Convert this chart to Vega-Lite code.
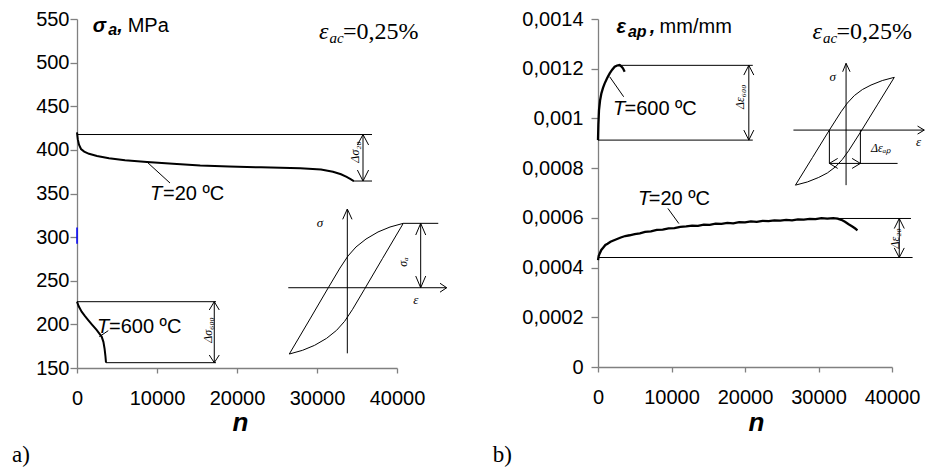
{
"$schema":"https://vega.github.io/schema/vega-lite/v6.json",
"padding":{"left":12,"top":9,"right":0,"bottom":0},
"bounds":"flush",
"spacing":201,
"background":"white",
"config":{"view":{"stroke":null},"axis":{"grid":false,"domainColor":"#808080","tickColor":"#808080","domainWidth":1.3,"tickWidth":1.3,"labelColor":"black","labelFont":"Liberation Sans","labelFontSize":20,"titleFont":"Liberation Sans","titleColor":"black","labelFlush":false,"labelOverlap":false}},
"datasets":{
"Lline":[
{"k":"curve","g":"c20","i":0,"n":0,"s":420},{"k":"curve","g":"c20","i":1,"n":100,"s":412},{"k":"curve","g":"c20","i":2,"n":250,"s":406},{"k":"curve","g":"c20","i":3,"n":500,"s":401},{"k":"curve","g":"c20","i":4,"n":900,"s":398},{"k":"curve","g":"c20","i":5,"n":1500,"s":395.5},{"k":"curve","g":"c20","i":6,"n":2500,"s":393},{"k":"curve","g":"c20","i":7,"n":4000,"s":390.5},{"k":"curve","g":"c20","i":8,"n":6000,"s":388},{"k":"curve","g":"c20","i":9,"n":8750,"s":386},{"k":"curve","g":"c20","i":10,"n":12000,"s":384},{"k":"curve","g":"c20","i":11,"n":15400,"s":382},{"k":"curve","g":"c20","i":12,"n":19000,"s":381},{"k":"curve","g":"c20","i":13,"n":23000,"s":380},{"k":"curve","g":"c20","i":14,"n":27900,"s":379},{"k":"curve","g":"c20","i":15,"n":30500,"s":377.5},{"k":"curve","g":"c20","i":16,"n":32000,"s":375},{"k":"curve","g":"c20","i":17,"n":33000,"s":372},{"k":"curve","g":"c20","i":18,"n":33700,"s":369},{"k":"curve","g":"c20","i":19,"n":34200,"s":366.5},{"k":"curve","g":"c20","i":20,"n":34600,"s":364.3},
{"k":"curve","g":"c600","i":0,"n":0,"s":226},{"k":"curve","g":"c600","i":1,"n":200,"s":221},{"k":"curve","g":"c600","i":2,"n":580,"s":214.6},{"k":"curve","g":"c600","i":3,"n":1000,"s":209.5},{"k":"curve","g":"c600","i":4,"n":1400,"s":205},{"k":"curve","g":"c600","i":5,"n":1900,"s":199.5},{"k":"curve","g":"c600","i":6,"n":2450,"s":193.6},{"k":"curve","g":"c600","i":7,"n":2800,"s":189.5},{"k":"curve","g":"c600","i":8,"n":3080,"s":186},{"k":"curve","g":"c600","i":9,"n":3300,"s":180},{"k":"curve","g":"c600","i":10,"n":3450,"s":172},{"k":"curve","g":"c600","i":11,"n":3550,"s":164},{"k":"curve","g":"c600","i":12,"n":3625,"s":156.1},
{"k":"loop","g":"l1","i":0,"n":26537,"s":166.0},{"k":"loop","g":"l1","i":1,"n":29125,"s":206.2},{"k":"loop","g":"l1","i":2,"n":31412,"s":242.0},{"k":"loop","g":"l1","i":3,"n":32875,"s":264.6},{"k":"loop","g":"l1","i":4,"n":33875,"s":278.4},{"k":"loop","g":"l1","i":5,"n":34875,"s":288.7},{"k":"loop","g":"l1","i":6,"n":36125,"s":297.8},{"k":"loop","g":"l1","i":7,"n":37625,"s":305.9},{"k":"loop","g":"l1","i":8,"n":39125,"s":311.6},{"k":"loop","g":"l1","i":9,"n":40787,"s":315.8},
{"k":"loop","g":"l2","i":0,"n":40787,"s":315.8},{"k":"loop","g":"l2","i":1,"n":38200,"s":275.7},{"k":"loop","g":"l2","i":2,"n":35912,"s":239.9},{"k":"loop","g":"l2","i":3,"n":34450,"s":217.3},{"k":"loop","g":"l2","i":4,"n":33450,"s":203.5},{"k":"loop","g":"l2","i":5,"n":32450,"s":193.2},{"k":"loop","g":"l2","i":6,"n":31200,"s":184.0},{"k":"loop","g":"l2","i":7,"n":29700,"s":176.0},{"k":"loop","g":"l2","i":8,"n":28200,"s":170.3},{"k":"loop","g":"l2","i":9,"n":26537,"s":166.0}
],
"Lseg":[
{"k":"ref","n":0,"s":417.6,"n2":36875,"s2":417.6},
{"k":"ref","n":34500,"s":364.3,"n2":36875,"s2":364.3},
{"k":"ref","n":35750,"s":417.6,"n2":35750,"s2":364.3},
{"k":"ref","n":35050,"s":405.6,"n2":35750,"s2":417.6},
{"k":"ref","n":36450,"s":405.6,"n2":35750,"s2":417.6},
{"k":"ref","n":35050,"s":376.9,"n2":35750,"s2":364.3},
{"k":"ref","n":36450,"s":376.9,"n2":35750,"s2":364.3},
{"k":"ref","n":0,"s":226,"n2":17375,"s2":226},
{"k":"ref","n":3625,"s":156.1,"n2":17375,"s2":156.1},
{"k":"ref","n":17160,"s":226,"n2":17160,"s2":156.1},
{"k":"ref","n":16535,"s":216.5,"n2":17160,"s2":226},
{"k":"ref","n":17785,"s":216.5,"n2":17160,"s2":226},
{"k":"ref","n":16535,"s":164.9,"n2":17160,"s2":156.1},
{"k":"ref","n":17785,"s":164.9,"n2":17160,"s2":156.1},
{"k":"ref","n":8750,"s":386.1,"n2":11625,"s2":362},
{"k":"ref","n":2790,"s":185.9,"n2":3910,"s2":192.8},
{"k":"ref","n":33790,"s":332.2,"n2":33790,"s2":166.8},
{"k":"ref","n":33210,"s":320.4,"n2":33790,"s2":332.2},
{"k":"ref","n":34375,"s":320.4,"n2":33790,"s2":332.2},
{"k":"ref","n":26410,"s":242,"n2":46210,"s2":242},
{"k":"ref","n":45375,"s":247.1,"n2":46210,"s2":242},
{"k":"ref","n":45375,"s":236.9,"n2":46210,"s2":242},
{"k":"ref","n":40787,"s":315.8,"n2":45160,"s2":315.8},
{"k":"ref","n":42960,"s":315.8,"n2":42960,"s2":242},
{"k":"ref","n":42340,"s":302.4,"n2":42960,"s2":315.8},
{"k":"ref","n":43590,"s":302.4,"n2":42960,"s2":315.8},
{"k":"ref","n":42340,"s":255.4,"n2":42960,"s2":242},
{"k":"ref","n":43590,"s":255.4,"n2":42960,"s2":242},
{"k":"blue","n":0,"s":292.5,"n2":0,"s2":311}
],
"Ltext":[
{"t":"σ","n":1962,"s":535.4,"k":"ttl"},
{"t":"a","n":3912,"s":531.7,"k":"ttlSub"},
{"t":",","n":5037,"s":535.4,"k":"ttl"},
{"t":"MPa","n":6337,"s":535.4,"k":"lab"},
{"t":"ε","n":30250,"s":526.7,"k":"serI"},
{"t":"ac","n":31562,"s":522.5,"k":"serSub"},
{"t":"=0,25%","n":33250,"s":526.7,"k":"ser"},
{"t":"T","n":9125,"s":342.5,"k":"labI"},
{"t":"=20 ºC","n":10750,"s":342.5,"k":"lab"},
{"t":"T","n":2500,"s":190.5,"k":"labI"},
{"t":"=600 ºC","n":4000,"s":190.5,"k":"lab"},
{"t":"σ","n":30375,"s":316.2,"k":"ins"},
{"t":"ε","n":42340,"s":227.9,"k":"ins"},
{"t":"σₐ","n":40750,"s":271.5,"k":"rot"},
{"t":"Δσ₂₀","n":34750,"s":397.6,"k":"rot"},
{"t":"Δσ₆₀₀","n":16375,"s":193.6,"k":"rot"},
{"t":"a)","n":-8125,"s":42.3,"k":"pan"}
],
"Rline":[
{"k":"curve","g":"c20","i":0,"n":0,"s":0.000430},{"k":"curve","g":"c20","i":1,"n":100,"s":0.000447},{"k":"curve","g":"c20","i":2,"n":250,"s":0.000458},{"k":"curve","g":"c20","i":3,"n":450,"s":0.000471},{"k":"curve","g":"c20","i":4,"n":700,"s":0.000480},{"k":"curve","g":"c20","i":5,"n":1000,"s":0.000491},{"k":"curve","g":"c20","i":6,"n":1300,"s":0.000496},{"k":"curve","g":"c20","i":7,"n":1700,"s":0.000504},{"k":"curve","g":"c20","i":8,"n":2100,"s":0.000509},{"k":"curve","g":"c20","i":9,"n":2600,"s":0.000515},{"k":"curve","g":"c20","i":10,"n":3100,"s":0.000521},{"k":"curve","g":"c20","i":11,"n":3700,"s":0.000527},{"k":"curve","g":"c20","i":12,"n":4300,"s":0.000530},{"k":"curve","g":"c20","i":13,"n":5000,"s":0.000535},{"k":"curve","g":"c20","i":14,"n":5700,"s":0.000538},{"k":"curve","g":"c20","i":15,"n":6400,"s":0.000544},{"k":"curve","g":"c20","i":16,"n":7200,"s":0.000546},{"k":"curve","g":"c20","i":17,"n":8000,"s":0.000552},{"k":"curve","g":"c20","i":18,"n":8800,"s":0.000553},{"k":"curve","g":"c20","i":19,"n":9600,"s":0.000558},{"k":"curve","g":"c20","i":20,"n":10400,"s":0.000559},{"k":"curve","g":"c20","i":21,"n":11200,"s":0.000564},{"k":"curve","g":"c20","i":22,"n":12000,"s":0.000566},{"k":"curve","g":"c20","i":23,"n":12800,"s":0.000569},{"k":"curve","g":"c20","i":24,"n":13600,"s":0.000568},{"k":"curve","g":"c20","i":25,"n":14400,"s":0.000573},{"k":"curve","g":"c20","i":26,"n":15200,"s":0.000572},{"k":"curve","g":"c20","i":27,"n":16000,"s":0.000577},{"k":"curve","g":"c20","i":28,"n":16800,"s":0.000576},{"k":"curve","g":"c20","i":29,"n":17600,"s":0.000580},{"k":"curve","g":"c20","i":30,"n":18400,"s":0.000578},{"k":"curve","g":"c20","i":31,"n":19200,"s":0.000583},{"k":"curve","g":"c20","i":32,"n":20000,"s":0.000582},{"k":"curve","g":"c20","i":33,"n":20800,"s":0.000586},{"k":"curve","g":"c20","i":34,"n":21600,"s":0.000584},{"k":"curve","g":"c20","i":35,"n":22400,"s":0.000588},{"k":"curve","g":"c20","i":36,"n":23200,"s":0.000587},{"k":"curve","g":"c20","i":37,"n":24000,"s":0.000590},{"k":"curve","g":"c20","i":38,"n":24800,"s":0.000589},{"k":"curve","g":"c20","i":39,"n":25600,"s":0.000592},{"k":"curve","g":"c20","i":40,"n":26400,"s":0.000590},{"k":"curve","g":"c20","i":41,"n":27200,"s":0.000594},{"k":"curve","g":"c20","i":42,"n":28000,"s":0.000593},{"k":"curve","g":"c20","i":43,"n":28800,"s":0.000596},{"k":"curve","g":"c20","i":44,"n":29600,"s":0.000595},{"k":"curve","g":"c20","i":45,"n":30400,"s":0.000599},{"k":"curve","g":"c20","i":46,"n":31200,"s":0.000597},{"k":"curve","g":"c20","i":47,"n":32000,"s":0.000599},{"k":"curve","g":"c20","i":48,"n":32600,"s":0.000597},{"k":"curve","g":"c20","i":49,"n":33100,"s":0.000592},{"k":"curve","g":"c20","i":50,"n":33600,"s":0.000584},{"k":"curve","g":"c20","i":51,"n":34100,"s":0.000574},{"k":"curve","g":"c20","i":52,"n":34600,"s":0.000565},{"k":"curve","g":"c20","i":53,"n":35000,"s":0.000557},{"k":"curve","g":"c20","i":54,"n":35300,"s":0.000550},
{"k":"curve","g":"c600","i":0,"n":0,"s":0.0009128},{"k":"curve","g":"c600","i":1,"n":50,"s":0.000975},{"k":"curve","g":"c600","i":2,"n":136,"s":0.0010336},{"k":"curve","g":"c600","i":3,"n":280,"s":0.001072},{"k":"curve","g":"c600","i":4,"n":462,"s":0.0011008},{"k":"curve","g":"c600","i":5,"n":680,"s":0.001123},{"k":"curve","g":"c600","i":6,"n":910,"s":0.0011411},{"k":"curve","g":"c600","i":7,"n":1250,"s":0.001163},{"k":"curve","g":"c600","i":8,"n":1590,"s":0.0011814},{"k":"curve","g":"c600","i":9,"n":1930,"s":0.001196},{"k":"curve","g":"c600","i":10,"n":2269,"s":0.001208},{"k":"curve","g":"c600","i":11,"n":2600,"s":0.001213},{"k":"curve","g":"c600","i":12,"n":2948,"s":0.0012148},{"k":"curve","g":"c600","i":13,"n":3200,"s":0.001209},{"k":"curve","g":"c600","i":14,"n":3397,"s":0.0012015},{"k":"curve","g":"c600","i":15,"n":3628,"s":0.0011878},
{"k":"loop","g":"l1","i":0,"n":26861,"s":0.0007316},{"k":"loop","g":"l1","i":1,"n":29171,"s":0.0008423},{"k":"loop","g":"l1","i":2,"n":31481,"s":0.0009531},{"k":"loop","g":"l1","i":3,"n":33071,"s":0.0010268},{"k":"loop","g":"l1","i":4,"n":33927,"s":0.0010618},{"k":"loop","g":"l1","i":5,"n":34878,"s":0.001092},{"k":"loop","g":"l1","i":6,"n":35965,"s":0.0011161},{"k":"loop","g":"l1","i":7,"n":37147,"s":0.0011343},{"k":"loop","g":"l1","i":8,"n":38682,"s":0.0011524},{"k":"loop","g":"l1","i":9,"n":40313,"s":0.0011653},
{"k":"loop","g":"l2","i":0,"n":40313,"s":0.0011653},{"k":"loop","g":"l2","i":1,"n":38003,"s":0.0010545},{"k":"loop","g":"l2","i":2,"n":35693,"s":0.0009438},{"k":"loop","g":"l2","i":3,"n":34103,"s":0.0008701},{"k":"loop","g":"l2","i":4,"n":33247,"s":0.0008351},{"k":"loop","g":"l2","i":5,"n":32296,"s":0.0008049},{"k":"loop","g":"l2","i":6,"n":31209,"s":0.0007807},{"k":"loop","g":"l2","i":7,"n":30027,"s":0.0007626},{"k":"loop","g":"l2","i":8,"n":28492,"s":0.0007445},{"k":"loop","g":"l2","i":9,"n":26861,"s":0.0007316}
],
"Rseg":[
{"k":"ref","n":2948,"s":0.0012136,"n2":21060,"s2":0.0012136},
{"k":"ref","n":0,"s":0.0009128,"n2":21060,"s2":0.0009128},
{"k":"ref","n":20520,"s":0.0012136,"n2":20520,"s2":0.0009128},
{"k":"ref","n":19840,"s":0.0011745,"n2":20520,"s2":0.0012136},
{"k":"ref","n":21200,"s":0.0011745,"n2":20520,"s2":0.0012136},
{"k":"ref","n":19840,"s":0.0009531,"n2":20520,"s2":0.0009128},
{"k":"ref","n":21200,"s":0.0009531,"n2":20520,"s2":0.0009128},
{"k":"ref","n":32390,"s":0.0005975,"n2":42580,"s2":0.0005975},
{"k":"ref","n":0,"s":0.0004405,"n2":42800,"s2":0.0004405},
{"k":"ref","n":40990,"s":0.0005975,"n2":40990,"s2":0.0004405},
{"k":"ref","n":40310,"s":0.000557,"n2":40990,"s2":0.0005975},
{"k":"ref","n":41670,"s":0.000557,"n2":40990,"s2":0.0005975},
{"k":"ref","n":40310,"s":0.000479,"n2":40990,"s2":0.0004405},
{"k":"ref","n":41670,"s":0.000479,"n2":40990,"s2":0.0004405},
{"k":"ref","n":9510,"s":0.000638,"n2":11005,"s2":0.000577},
{"k":"ref","n":1590,"s":0.0011677,"n2":3492,"s2":0.0010872},
{"k":"ref","n":33750,"s":0.0012216,"n2":33750,"s2":0.0007316},
{"k":"ref","n":33288,"s":0.0011878,"n2":33750,"s2":0.0012216},
{"k":"ref","n":34294,"s":0.0011878,"n2":33750,"s2":0.0012216},
{"k":"ref","n":26590,"s":0.0009531,"n2":44389,"s2":0.0009531},
{"k":"ref","n":43478,"s":0.0009692,"n2":44389,"s2":0.0009531},
{"k":"ref","n":43478,"s":0.000937,"n2":44389,"s2":0.0009531},
{"k":"ref","n":31481,"s":0.0009531,"n2":31481,"s2":0.000819},
{"k":"ref","n":35700,"s":0.0009531,"n2":35700,"s2":0.000819},
{"k":"ref","n":31481,"s":0.000819,"n2":40761,"s2":0.000819},
{"k":"ref","n":32609,"s":0.0008391,"n2":31481,"s2":0.000819},
{"k":"ref","n":32609,"s":0.0007989,"n2":31481,"s2":0.000819},
{"k":"ref","n":34572,"s":0.0008391,"n2":35700,"s2":0.000819},
{"k":"ref","n":34572,"s":0.0007989,"n2":35700,"s2":0.000819}
],
"Rtext":[
{"t":"ε","n":2500,"s":0.0013424,"k":"ttl"},
{"t":"ap","n":4076,"s":0.0013275,"k":"ttlSub"},
{"t":",","n":7025,"s":0.0013424,"k":"ttl"},
{"t":"mm/mm","n":8380,"s":0.0013424,"k":"lab"},
{"t":"ε","n":29171,"s":0.0013183,"k":"serI"},
{"t":"ac","n":30598,"s":0.0013034,"k":"serSub"},
{"t":"=0,25%","n":32432,"s":0.0013183,"k":"ser"},
{"t":"T","n":5435,"s":0.000651,"k":"labI"},
{"t":"=20 ºC","n":6900,"s":0.000651,"k":"lab"},
{"t":"T","n":2038,"s":0.0010135,"k":"labI"},
{"t":"=600 ºC","n":3600,"s":0.0010135,"k":"lab"},
{"t":"σ","n":31930,"s":0.0011677,"k":"ins"},
{"t":"ε","n":43614,"s":0.000906,"k":"ins"},
{"t":"Δεₐₚ","n":37147,"s":0.0008794,"k":"insL"},
{"t":"Δε₂₀","n":40450,"s":0.000517,"k":"rot"},
{"t":"Δε₆₀₀","n":19350,"s":0.001087,"k":"rot"},
{"t":"b)","n":-14307,"s":-0.0003837,"k":"pan"}
]
},
"hconcat":[
{
"width":320,"height":349,
"encoding":{
 "x":{"field":"n","type":"quantitative","scale":{"domain":[0,40000],"nice":false,"zero":false},"axis":{"values":[0,10000,20000,30000,40000],"format":"d","tickSize":5,"labelPadding":15,"title":"n","titleFontSize":26,"titleFontStyle":"italic","titleFontWeight":"bold","titleX":163,"titleY":62,"titleAlign":"center","titleBaseline":"alphabetic"}},
 "y":{"field":"s","type":"quantitative","scale":{"domain":[150,550],"nice":false,"zero":false},"axis":{"values":[150,200,250,300,350,400,450,500,550],"tickSize":7,"labelPadding":1,"title":null}}
},
"layer":[
{"data":{"name":"Lline"},"transform":[{"filter":"datum.k=='curve'"}],"mark":{"type":"line","color":"black","strokeWidth":2},
 "encoding":{"detail":{"field":"g"},"order":{"field":"i"}}},
{"data":{"name":"Lline"},"transform":[{"filter":"datum.k=='loop'"}],"mark":{"type":"line","color":"black","strokeWidth":1},
 "encoding":{"detail":{"field":"g"},"order":{"field":"i"}}},
{"data":{"name":"Lseg"},"transform":[{"filter":"datum.k=='ref'"}],"mark":{"type":"rule","color":"black","strokeWidth":1},
 "encoding":{"x2":{"field":"n2"},"y2":{"field":"s2"}}},
{"data":{"name":"Lseg"},"transform":[{"filter":"datum.k=='blue'"}],"mark":{"type":"rule","color":"#0000ff","strokeWidth":1.5},
 "encoding":{"x2":{"field":"n2"},"y2":{"field":"s2"}}},
{"data":{"name":"Ltext"},"transform":[{"filter":"datum.k=='ttl'"}],"mark":{"type":"text","font":"Liberation Sans","fontSize":20,"fontStyle":"italic","fontWeight":"bold","align":"left","baseline":"alphabetic","color":"black"},
 "encoding":{"text":{"field":"t"}}},
{"data":{"name":"Ltext"},"transform":[{"filter":"datum.k=='ttlSub'"}],"mark":{"type":"text","font":"Liberation Sans","fontSize":16,"fontStyle":"italic","fontWeight":"bold","align":"left","baseline":"alphabetic","color":"black"},
 "encoding":{"text":{"field":"t"}}},
{"data":{"name":"Ltext"},"transform":[{"filter":"datum.k=='lab'"}],"mark":{"type":"text","font":"Liberation Sans","fontSize":20,"align":"left","baseline":"alphabetic","color":"black"},
 "encoding":{"text":{"field":"t"}}},
{"data":{"name":"Ltext"},"transform":[{"filter":"datum.k=='labI'"}],"mark":{"type":"text","font":"Liberation Sans","fontSize":20,"fontStyle":"italic","align":"left","baseline":"alphabetic","color":"black"},
 "encoding":{"text":{"field":"t"}}},
{"data":{"name":"Ltext"},"transform":[{"filter":"datum.k=='ser'"}],"mark":{"type":"text","font":"Liberation Serif","fontSize":24,"align":"left","baseline":"alphabetic","color":"black"},
 "encoding":{"text":{"field":"t"}}},
{"data":{"name":"Ltext"},"transform":[{"filter":"datum.k=='serI'"}],"mark":{"type":"text","font":"Liberation Serif","fontSize":24,"fontStyle":"italic","align":"left","baseline":"alphabetic","color":"black"},
 "encoding":{"text":{"field":"t"}}},
{"data":{"name":"Ltext"},"transform":[{"filter":"datum.k=='serSub'"}],"mark":{"type":"text","font":"Liberation Serif","fontSize":15,"fontStyle":"italic","align":"left","baseline":"alphabetic","color":"black"},
 "encoding":{"text":{"field":"t"}}},
{"data":{"name":"Ltext"},"transform":[{"filter":"datum.k=='ins'"}],"mark":{"type":"text","font":"Liberation Serif","fontSize":13,"fontStyle":"italic","align":"center","baseline":"middle","color":"black"},
 "encoding":{"text":{"field":"t"}}},
{"data":{"name":"Ltext"},"transform":[{"filter":"datum.k=='rot'"}],"mark":{"type":"text","font":"Liberation Serif","fontSize":12,"fontStyle":"italic","align":"center","baseline":"middle","angle":270,"color":"black"},
 "encoding":{"text":{"field":"t"}}},
{"data":{"name":"Ltext"},"transform":[{"filter":"datum.k=='pan'"}],"mark":{"type":"text","font":"Liberation Serif","fontSize":23,"align":"left","baseline":"alphabetic","color":"black"},
 "encoding":{"text":{"field":"t"}}}
]
},
{
"width":294,"height":348,
"encoding":{
 "x":{"field":"n","type":"quantitative","scale":{"domain":[0,40000],"nice":false,"zero":false},"axis":{"values":[0,10000,20000,30000,40000],"format":"d","tickSize":5,"labelPadding":15,"title":"n","titleFontSize":26,"titleFontStyle":"italic","titleFontWeight":"bold","titleX":158,"titleY":63,"titleAlign":"center","titleBaseline":"alphabetic"}},
 "y":{"field":"s","type":"quantitative","scale":{"domain":[0,0.0014],"nice":false,"zero":false},"axis":{"values":[0,0.0002,0.0004,0.0006,0.0008,0.001,0.0012,0.0014],"labelExpr":"replace(format(datum.value, '.4~f'), '.', ',')","tickSize":7,"labelPadding":8,"title":null}}
},
"layer":[
{"data":{"name":"Rline"},"transform":[{"filter":"datum.k=='curve'"}],"mark":{"type":"line","color":"black","strokeWidth":2.3},
 "encoding":{"detail":{"field":"g"},"order":{"field":"i"}}},
{"data":{"name":"Rline"},"transform":[{"filter":"datum.k=='loop'"}],"mark":{"type":"line","color":"black","strokeWidth":1},
 "encoding":{"detail":{"field":"g"},"order":{"field":"i"}}},
{"data":{"name":"Rseg"},"mark":{"type":"rule","color":"black","strokeWidth":1},
 "encoding":{"x2":{"field":"n2"},"y2":{"field":"s2"}}},
{"data":{"name":"Rtext"},"transform":[{"filter":"datum.k=='ttl'"}],"mark":{"type":"text","font":"Liberation Sans","fontSize":20,"fontStyle":"italic","fontWeight":"bold","align":"left","baseline":"alphabetic","color":"black"},
 "encoding":{"text":{"field":"t"}}},
{"data":{"name":"Rtext"},"transform":[{"filter":"datum.k=='ttlSub'"}],"mark":{"type":"text","font":"Liberation Sans","fontSize":16,"fontStyle":"italic","fontWeight":"bold","align":"left","baseline":"alphabetic","color":"black"},
 "encoding":{"text":{"field":"t"}}},
{"data":{"name":"Rtext"},"transform":[{"filter":"datum.k=='lab'"}],"mark":{"type":"text","font":"Liberation Sans","fontSize":20,"align":"left","baseline":"alphabetic","color":"black"},
 "encoding":{"text":{"field":"t"}}},
{"data":{"name":"Rtext"},"transform":[{"filter":"datum.k=='labI'"}],"mark":{"type":"text","font":"Liberation Sans","fontSize":20,"fontStyle":"italic","align":"left","baseline":"alphabetic","color":"black"},
 "encoding":{"text":{"field":"t"}}},
{"data":{"name":"Rtext"},"transform":[{"filter":"datum.k=='ser'"}],"mark":{"type":"text","font":"Liberation Serif","fontSize":24,"align":"left","baseline":"alphabetic","color":"black"},
 "encoding":{"text":{"field":"t"}}},
{"data":{"name":"Rtext"},"transform":[{"filter":"datum.k=='serI'"}],"mark":{"type":"text","font":"Liberation Serif","fontSize":24,"fontStyle":"italic","align":"left","baseline":"alphabetic","color":"black"},
 "encoding":{"text":{"field":"t"}}},
{"data":{"name":"Rtext"},"transform":[{"filter":"datum.k=='serSub'"}],"mark":{"type":"text","font":"Liberation Serif","fontSize":15,"fontStyle":"italic","align":"left","baseline":"alphabetic","color":"black"},
 "encoding":{"text":{"field":"t"}}},
{"data":{"name":"Rtext"},"transform":[{"filter":"datum.k=='ins'"}],"mark":{"type":"text","font":"Liberation Serif","fontSize":13,"fontStyle":"italic","align":"center","baseline":"middle","color":"black"},
 "encoding":{"text":{"field":"t"}}},
{"data":{"name":"Rtext"},"transform":[{"filter":"datum.k=='insL'"}],"mark":{"type":"text","font":"Liberation Serif","fontSize":12,"fontStyle":"italic","align":"left","baseline":"middle","color":"black"},
 "encoding":{"text":{"field":"t"}}},
{"data":{"name":"Rtext"},"transform":[{"filter":"datum.k=='rot'"}],"mark":{"type":"text","font":"Liberation Serif","fontSize":12,"fontStyle":"italic","align":"center","baseline":"middle","angle":270,"color":"black"},
 "encoding":{"text":{"field":"t"}}},
{"data":{"name":"Rtext"},"transform":[{"filter":"datum.k=='pan'"}],"mark":{"type":"text","font":"Liberation Serif","fontSize":23,"align":"left","baseline":"alphabetic","color":"black"},
 "encoding":{"text":{"field":"t"}}}
]
}
]
}
